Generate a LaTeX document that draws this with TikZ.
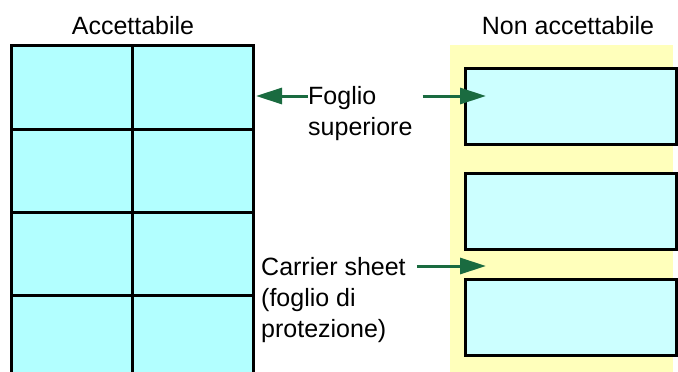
\documentclass[tikz,border=0pt]{standalone}
\usepackage{fontspec}
\setmainfont{Liberation Sans}
\usetikzlibrary{arrows.meta}
\begin{document}
\begin{tikzpicture}[x=1pt, y=-1pt, >=latex,
  txt/.style={inner sep=0pt, font=\fontsize{25}{31}\selectfont},
  label box/.style={draw, line width=3pt, fill=cyan!20, minimum width=211pt, minimum height=76pt, inner sep=0pt},
  green arrow/.style={draw=arrowgreen, line width=3pt, -{Triangle[length=26pt, width=16pt]}}]
\definecolor{arrowgreen}{RGB}{26,107,64}
\definecolor{sheetcyan}{RGB}{178,255,255}
\definecolor{boxcyan}{RGB}{204,255,255}
\definecolor{paleyellow}{RGB}{255,255,187}
\useasboundingbox (0,0) rectangle (678,372);
\clip (0,0) rectangle (678,372);
% acceptable sheet
\fill[sheetcyan] (11,45) rectangle (253,400);
\draw[line width=3pt] (11,400) -- (11,45) -- (253,45) -- (253,400);
\draw[line width=3pt] (132,45) -- (132,400);
\draw[line width=3pt] (11,129) -- (253,129);
\draw[line width=3pt] (11,212) -- (253,212);
\draw[line width=3pt] (11,295) -- (253,295);
% not acceptable sheet
\fill[paleyellow] (450,45) rectangle (673,400);
\node[label box, fill=boxcyan] (box1) at (570.5,106) {};
\node[label box, fill=boxcyan] (box2) at (570.5,211.5) {};
\node[label box, fill=boxcyan] (box3) at (570.5,317.5) {};
% texts
\node[txt] (acc) at (133,26) {Accettabile};
\node[txt] (nonacc) at (568,26) {Non accettabile};
\node[txt, anchor=north west, align=left] (foglio) at (308,86) {Foglio\\superiore};
\node[txt, anchor=north west, align=left] (carrier) at (261,257) {Carrier sheet\\(foglio di\\protezione)};
% arrows
\coordinate (tipL) at (256,96);
\coordinate (tipR) at (486,96);
\coordinate (tipC) at (486,266);
\draw[green arrow] (foglio.west |- tipL) -- (tipL);
\draw[green arrow] ([xshift=10pt]foglio.east |- tipR) -- (tipR);
\draw[green arrow] ([xshift=11pt]carrier.north east |- tipC) -- (tipC);
\end{tikzpicture}
\end{document}
